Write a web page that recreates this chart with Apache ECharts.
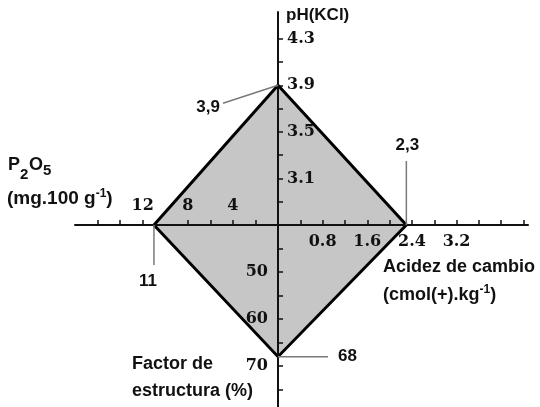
<!DOCTYPE html>
<html>
<head>
<meta charset="utf-8">
<script src="https://cdn.jsdelivr.net/npm/echarts@6/dist/echarts.min.js"></script>
<style>
  html, body { margin: 0; padding: 0; background: #fff; }
  #chart { width: 540px; height: 407px; }
</style>
</head>
<body>
<div id="chart"></div>
<script>
// Four half-axes meeting at a common origin
const acidezRange = [0, 4.48];
const acidezTicks = [0.4, 0.8, 1.2, 1.6, 2.0, 2.4, 2.8, 3.2, 3.6, 4.0, 4.4];
const acidezLabels = [0.8, 1.6, 2.4, 3.2];

const p2o5Range = [0, 18];
const p2o5Ticks = [2, 4, 6, 8, 12, 14, 16];
const p2o5Labels = [4, 8, 12];

const phRange = [2.7, 4.53];
const phTicks = [2.9, 3.1, 3.3, 3.5, 3.7, 3.9, 4.1, 4.3];
const phLabels = [3.1, 3.5, 3.9, 4.3];

const factorRange = [40, 78.7];
const factorTicks = [45, 50, 55, 60, 65, 70, 75];
const factorLabels = [50, 60, 70];

// Soil sample: one value per axis
const phValue = 3.9;
const acidezValue = 2.3;
const factorValue = 68;
const p2o5Value = 11;

const INK = '#111';
const SANS = "'Liberation Sans', Arial, sans-serif";
const serifLabel = { fontFamily: "'DejaVu Serif', serif", fontWeight: 'bold', fontSize: 16, color: INK };
const axisLine = { show: true, onZero: false, lineStyle: { color: INK, width: 2 } };
const tickStyle = { color: INK, width: 1.5 };
const oneDecimal = v => Number(v).toFixed(1);
const comma = v => String(v).replace('.', ',');

const chart = echarts.init(document.getElementById('chart'), null, { renderer: 'canvas' });

chart.setOption({
  animation: false,
  backgroundColor: '#fff',
  grid: [
    { left: 278, top: 25, width: 250, height: 200 },   // right: acidez
    { left: 75, top: 225, width: 203, height: 100 },   // left: P2O5
    { left: 178, top: 12, width: 100, height: 213 },   // up: pH
    { left: 278, top: 225, width: 100, height: 182 }   // down: factor de estructura
  ],
  xAxis: [
    {
      gridIndex: 0, type: 'value', min: acidezRange[0], max: acidezRange[1], position: 'bottom',
      axisLine: axisLine,
      axisTick: { show: true, inside: true, length: 5, customValues: acidezTicks, lineStyle: tickStyle },
      axisLabel: Object.assign({ customValues: acidezLabels, margin: 9, formatter: oneDecimal }, serifLabel),
      splitLine: { show: false }
    },
    {
      gridIndex: 1, type: 'value', min: p2o5Range[0], max: p2o5Range[1], inverse: true, position: 'top',
      axisLine: axisLine,
      axisTick: { show: true, inside: false, length: 5, customValues: p2o5Ticks, lineStyle: tickStyle },
      axisLabel: Object.assign({ customValues: p2o5Labels, margin: 11 }, serifLabel),
      splitLine: { show: false }
    },
    { gridIndex: 2, type: 'value', show: false },
    { gridIndex: 3, type: 'value', show: false }
  ],
  yAxis: [
    { gridIndex: 0, type: 'value', show: false },
    { gridIndex: 1, type: 'value', show: false },
    {
      gridIndex: 2, type: 'value', min: phRange[0], max: phRange[1], position: 'right',
      axisLine: axisLine,
      axisTick: { show: true, inside: false, length: 5, customValues: phTicks, lineStyle: tickStyle },
      axisLabel: Object.assign({ customValues: phLabels, margin: 9, formatter: oneDecimal }, serifLabel),
      splitLine: { show: false }
    },
    {
      gridIndex: 3, type: 'value', min: factorRange[0], max: factorRange[1], inverse: true, position: 'left',
      axisLine: axisLine,
      axisTick: { show: true, inside: true, length: 5, customValues: factorTicks, lineStyle: tickStyle },
      axisLabel: Object.assign({ customValues: factorLabels, margin: 10 }, serifLabel),
      splitLine: { show: false }
    }
  ]
});

// Vertices of the sample polygon, each on its own axis scale
const ox = chart.convertToPixel({ xAxisIndex: 0 }, 0);
const oy = chart.convertToPixel({ yAxisIndex: 2 }, phRange[0]);
const vTop = [ox, chart.convertToPixel({ yAxisIndex: 2 }, phValue)];
const vRight = [chart.convertToPixel({ xAxisIndex: 0 }, acidezValue), oy];
const vBottom = [ox, chart.convertToPixel({ yAxisIndex: 3 }, factorValue)];
const vLeft = [chart.convertToPixel({ xAxisIndex: 1 }, p2o5Value), oy];

const leader = { stroke: '#7a7a7a', lineWidth: 1.5 };
const note = { fontFamily: SANS, fontWeight: 'bold', fontSize: 17, fill: INK };
const title = { fontFamily: SANS, fontWeight: 'bold', fontSize: 18, fill: INK };
const small = { fontFamily: SANS, fontWeight: 'bold', fontSize: 15, fill: INK };

function text(x, y, str, base, align) {
  return {
    type: 'text', x: x, y: y, z: 5,
    style: Object.assign({ text: str, align: align || 'left', verticalAlign: 'middle' }, base)
  };
}
function richText(x, y, str, size) {
  return {
    type: 'text', x: x, y: y, z: 5,
    style: {
      text: str, align: 'left', verticalAlign: 'middle',
      fontFamily: SANS, fontWeight: 'bold', fontSize: size, fill: INK,
      rich: {
        t: { fontFamily: SANS, fontWeight: 'bold', fontSize: size, lineHeight: 22, fill: INK },
        sup: { fontFamily: SANS, fontWeight: 'bold', fontSize: 12, lineHeight: 12, verticalAlign: 'top', fill: INK }
      }
    }
  };
}

chart.setOption({
  graphic: [
    {
      type: 'polygon', z: -1,
      shape: { points: [vTop, vRight, vBottom, vLeft] },
      style: { fill: '#c6c6c6', stroke: '#000', lineWidth: 3, lineJoin: 'miter' }
    },
    // value callouts
    { type: 'line', z: 4, shape: { x1: vTop[0] - 55, y1: vTop[1] + 18, x2: vTop[0], y2: vTop[1] }, style: leader },
    text(vTop[0] - 58, vTop[1] + 22, comma(phValue), note, 'right'),
    { type: 'line', z: 4, shape: { x1: vRight[0], y1: oy - 64, x2: vRight[0], y2: oy }, style: leader },
    text(vRight[0] + 1, oy - 80, comma(acidezValue), note, 'center'),
    { type: 'line', z: 4, shape: { x1: vLeft[0], y1: oy, x2: vLeft[0], y2: oy + 40 }, style: leader },
    text(vLeft[0] - 6, oy + 56, comma(p2o5Value), note, 'center'),
    { type: 'line', z: 4, shape: { x1: vBottom[0], y1: vBottom[1], x2: vBottom[0] + 50, y2: vBottom[1] }, style: leader },
    text(vBottom[0] + 60, vBottom[1], comma(factorValue), note, 'left'),
    // axis titles
    text(286, 15, 'pH(KCl)', { fontFamily: SANS, fontWeight: 'bold', fontSize: 17, fill: INK }),
    text(8, 165, 'P', title),
    text(20, 175, '2', small),
    text(29, 165, 'O', title),
    text(43, 171, '5', small),
    richText(7, 199, '{t|(mg.100 g}{sup|-1}{t|)}', 19),
    text(383, 267, 'Acidez de cambio', title),
    richText(383, 295, '{t|(cmol(+).kg}{sup|-1}{t|)}', 18),
    text(132, 364, 'Factor de', title),
    text(132, 391, 'estructura (%)', title)
  ]
});
</script>
</body>
</html>
